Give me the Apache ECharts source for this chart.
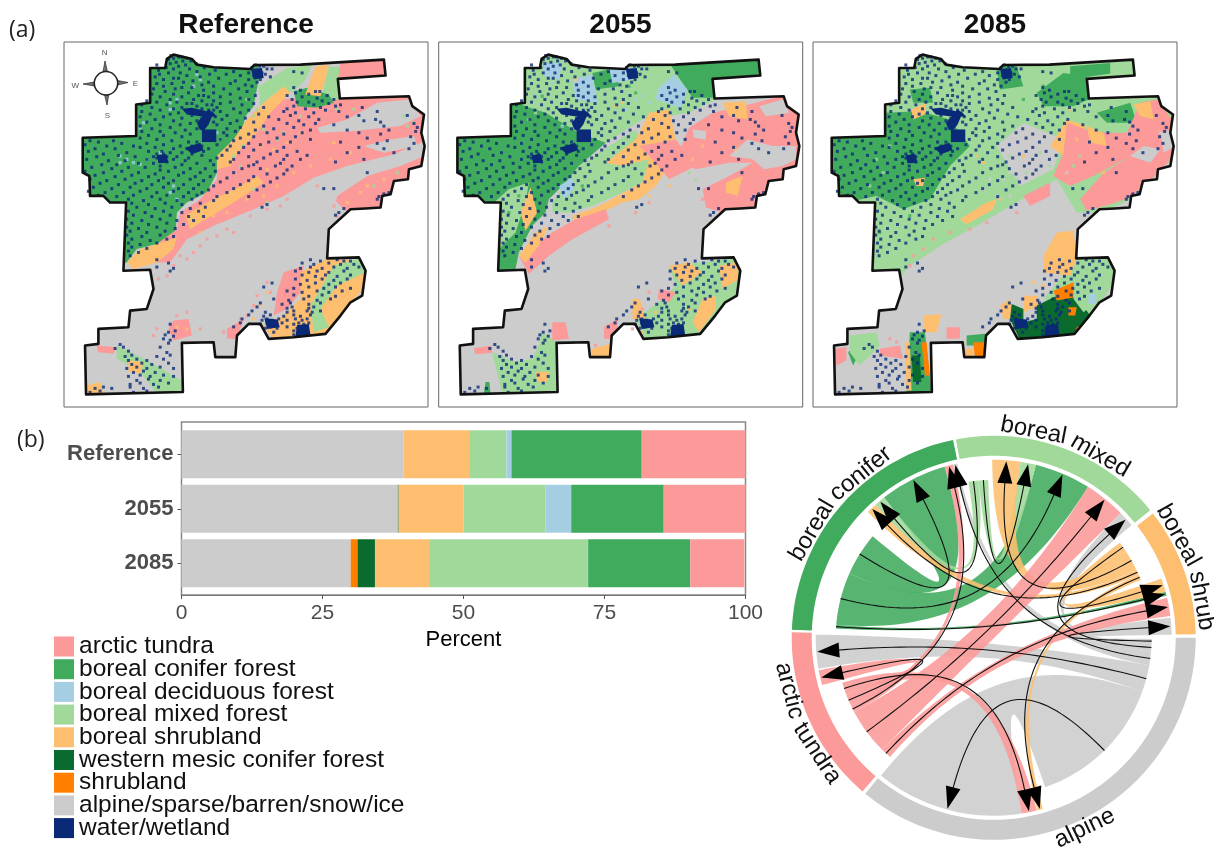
<!DOCTYPE html>
<html>
<head>
<meta charset="utf-8">
<style>html,body{margin:0;padding:0;background:#fff}#main{width:1214px;height:847px}</style>
<script src="https://cdn.jsdelivr.net/npm/echarts@6/dist/echarts.min.js"></script>
</head>
<body>
<div id="main"></div>
<script>
// (b) stacked bars, percent of area
var categories = ['Reference', '2055', '2085'];
var alpineVals = [39.4, 38.3, 30.0];
var shrublandVals = [0, 0.1, 1.2];
var mesicVals = [0, 0.1, 3.1];
var shrubVals = [11.6, 11.5, 9.6];
var mixedVals = [6.6, 14.5, 28.0];
var decidVals = [0.9, 4.6, 0.2];
var coniferVals = [23.1, 16.4, 18.1];
var tundraVals = [18.4, 14.5, 9.6];
var waterVals = [0, 0, 0];

var legendNames = ['arctic tundra', 'boreal conifer forest', 'boreal deciduous forest', 'boreal mixed forest',
  'boreal shrubland', 'western mesic conifer forest', 'shrubland', 'alpine/sparse/barren/snow/ice', 'water/wetland'];

var colors = {
  tundra: '#fb9a99', conifer: '#41ab5d', decid: '#a6cee3', mixed: '#a1d99b', shrub: '#fdbf6f',
  mesic: '#0b6b2e', shrubland: '#ff7f00', alpine: '#cccccc', water: '#0a2a78'
};

// study area outline, in map units of the Reference panel (1 unit = 1/3 px)
var outline = [500,178, 520,165, 575,178, 590,195, 640,203, 750,208, 762,196, 900,195, 1150,180, 1155,228, 1012,238,
  1018,297, 1225,290, 1235,320, 1270,345, 1262,400, 1272,440, 1262,500, 1225,510, 1222,540, 1180,545, 1170,585,
  1145,590, 1140,625, 1095,628, 1050,630, 985,690, 980,778, 1075,775, 1095,815, 1085,890, 1050,910, 1020,950,
  975,1005, 880,1015, 805,1020, 780,975, 745,975, 710,1010, 705,1075, 645,1075, 640,1030, 545,1032, 548,1180,
  258,1187, 255,1040, 295,1035, 295,990, 385,985, 390,935, 440,930, 460,870, 450,812, 370,815, 378,610, 330,610,
  310,590, 270,590, 268,530, 248,520, 248,415, 408,410, 408,315, 450,310, 450,205, 495,205];

// class patches per panel, painted in order over the alpine base
var refPatches = [
  ['conifer', [200,140, 770,140, 775,240, 760,320, 735,350, 725,395, 690,430, 650,470, 650,520, 620,580, 560,610, 530,640, 525,720, 470,735, 410,750, 380,790, 200,820]],
  ['tundra', [760,340, 840,300, 1010,290, 1240,280, 1300,340, 1300,560, 1140,640, 1040,640, 980,580, 850,640, 700,690, 570,730, 520,790, 450,790, 400,770, 470,735, 530,690, 540,640, 600,600, 650,540, 650,480, 700,430, 735,370]],
  ['mixed', [775,260, 860,205, 935,195, 915,240, 880,275, 820,285, 780,320]],
  ['mixed', [985,200, 1040,205, 1015,300, 960,305]],
  ['tundra', [1020,190, 1160,175, 1160,232, 1012,240]],
  ['conifer', [880,275, 920,265, 985,285, 1000,310, 950,325, 890,320]],
  ['shrub', [945,200, 985,195, 975,240, 960,290, 915,285, 930,240]],
  ['shrub', [740,360, 790,310, 850,260, 870,280, 810,340, 770,400, 720,450, 690,500, 650,510, 650,470, 700,420]],
  ['shrub', [620,610, 720,560, 770,530, 790,550, 700,610, 600,670, 570,690, 555,650]],
  ['shrub', [380,790, 420,750, 470,735, 530,715, 520,750, 470,790, 400,810]],
  ['alpine', [1280,422, 1180,465, 1040,500, 940,535, 850,590, 760,630, 640,680, 560,720, 510,790, 440,820, 450,1000, 1000,1000, 1000,640, 1010,590, 1100,530, 1200,500, 1270,470]],
  ['alpine', [950,385, 1040,360, 1130,310, 1225,300, 1260,350, 1200,380, 1060,395, 960,400]],
  ['alpine', [1090,440, 1170,420, 1240,410, 1250,440, 1150,460]],
  ['tundra', [850,820, 910,800, 900,880, 860,930, 820,950, 830,880]],
  ['shrub', [900,820, 980,780, 1090,785, 1100,860, 1040,920, 990,1010, 820,1025, 790,980, 850,950, 900,900]],
  ['mixed', [1000,800, 1085,775, 1095,820, 1010,860, 960,930, 985,985, 940,1000, 930,920]],
  ['tundra', [520,965, 565,960, 575,1010, 520,1025, 505,990]],
  ['tundra', [680,990, 730,960, 710,1020, 680,1020]],
  ['tundra', [290,1040, 350,1045, 340,1065, 295,1060]],
  ['mixed', [350,1040, 450,1090, 550,1150, 550,1185, 470,1185, 420,1120, 350,1080]],
  ['shrub', [385,1085, 430,1090, 420,1125, 385,1120]],
  ['shrub', [258,1160, 300,1150, 310,1187, 258,1187]]
];

var p2055Patches = [
  ['mixed', [265,200, 320,160, 400,180, 600,185, 760,185, 830,185, 980,170, 980,235, 830,240, 840,300, 760,340, 620,360, 510,430, 430,400, 330,340, 270,320, 225,315]],
  ['conifer', [60,400, 225,300, 270,320, 330,340, 430,400, 510,430, 430,500, 390,550, 340,600, 330,640, 290,680, 250,760, 240,810, 170,820, 170,610, 60,590]],
  ['conifer', [700,190, 975,175, 975,228, 830,238, 835,295, 770,295]],
  ['conifer', [470,220, 540,205, 550,260, 480,270]],
  ['decid', [410,240, 470,225, 485,310, 420,300]],
  ['decid', [665,270, 715,225, 755,270, 735,325, 660,300]],
  ['decid', [520,200, 580,195, 590,240, 530,250]],
  ['decid', [320,190, 380,190, 370,240, 325,230]],
  ['mixed', [170,615, 220,570, 280,550, 270,610, 240,700, 170,770]],
  ['shrub', [255,640, 285,565, 305,640, 270,695]],
  ['mixed', [350,610, 430,500, 520,440, 600,390, 640,480, 640,540, 560,580, 470,620, 400,640, 350,640]],
  ['decid', [370,560, 410,535, 415,570, 385,600]],
  ['tundra', [760,385, 830,340, 960,310, 1050,285, 1100,360, 1100,480, 1060,520, 1000,560, 960,620, 860,640, 810,625, 800,570, 880,530, 950,490, 880,490, 780,510, 720,480]],
  ['alpine', [970,320, 1040,300, 1060,340, 990,350]],
  ['alpine', [770,390, 810,395, 810,420, 775,415]],
  ['alpine', [880,470, 935,420, 1010,440, 1080,440, 1080,480, 1040,500, 985,510, 950,480]],
  ['shrub', [510,490, 600,420, 640,340, 700,330, 720,420, 700,500, 660,560, 610,600, 560,610, 420,680, 410,650, 490,620, 620,550, 640,480, 560,500]],
  ['tundra', [610,440, 720,420, 780,500, 700,540, 650,480]],
  ['shrub', [860,310, 930,305, 935,360, 880,350]],
  ['shrub', [870,550, 920,530, 905,590, 870,580]],
  ['tundra', [350,700, 420,660, 510,630, 520,660, 410,720, 340,770, 280,825, 250,770]],
  ['shrub', [250,770, 300,700, 340,680, 310,740, 270,790]],
  ['mixed', [700,800, 800,790, 900,775, 925,820, 900,890, 840,960, 800,1015, 630,1025, 600,960, 680,900, 720,860]],
  ['shrub', [800,900, 840,890, 840,930, 790,1000, 770,970]],
  ['shrub', [700,800, 760,790, 800,820, 740,860]],
  ['shrub', [850,800, 900,790, 910,840, 860,870]],
  ['shrub', [590,900, 612,900, 630,960, 590,960]],
  ['tundra', [670,870, 720,880, 700,910, 665,900]],
  ['tundra', [505,985, 545,960, 545,1020, 505,1020]],
  ['mixed', [320,1000, 365,1030, 370,1185, 200,1185, 170,1060, 240,1090, 290,1080, 310,1040]],
  ['tundra', [350,970, 390,970, 400,1020, 350,1025]],
  ['tundra', [115,1048, 170,1040, 170,1062, 120,1066]],
  ['shrub', [470,1050, 525,1035, 528,1078, 465,1078]],
  ['shrub', [300,1120, 340,1120, 335,1150, 305,1150]],
  ['conifer', [150,1150, 162,1150, 165,1185, 145,1185]]
];

var p2085Patches = [
  ['mixed', [170,620, 60,600, 60,400, 225,300, 265,190, 320,160, 980,170, 980,235, 835,240, 840,300, 1050,285, 1095,340, 1095,470, 960,600, 880,640, 800,640, 740,540, 620,610, 500,680, 400,735, 300,800, 270,835, 170,825]],
  ['conifer', [60,405, 225,405, 225,340, 330,335, 420,360, 480,440, 420,500, 360,600, 280,630, 200,590, 130,605, 60,565]],
  ['conifer', [300,270, 360,265, 370,310, 310,310]],
  ['conifer', [680,280, 760,220, 830,230, 835,300, 790,320, 700,320]],
  ['conifer', [780,200, 900,190, 900,222, 780,240]],
  ['conifer', [560,200, 620,200, 640,260, 570,270]],
  ['conifer', [860,340, 960,310, 980,370, 890,370]],
  ['shrub', [305,330, 350,310, 345,345, 310,360]],
  ['shrub', [310,540, 345,535, 340,560, 320,560]],
  ['alpine', [560,440, 640,370, 760,420, 730,510, 630,560]],
  ['shrub', [720,440, 770,360, 830,380, 800,430, 760,470]],
  ['tundra', [770,370, 840,395, 900,400, 950,400, 990,310, 1040,300, 1085,360, 1090,470, 1040,525, 960,595, 900,615, 830,635, 810,600, 880,520, 960,470, 850,530, 780,560, 730,530, 760,460]],
  ['shrub', [830,380, 880,400, 890,440, 840,430]],
  ['shrub', [970,315, 1020,305, 1030,360, 990,350]],
  ['tundra', [640,590, 720,550, 720,590, 660,620]],
  ['shrub', [450,660, 530,610, 560,600, 550,630, 470,675]],
  ['alpine', [960,470, 1000,440, 1050,450, 1020,490]],
  ['alpine', [1085,390, 1095,440, 1060,460, 1050,400]],
  ['mixed', [800,780, 900,775, 925,820, 880,900, 830,960, 700,900]],
  ['shrub', [740,700, 790,695, 800,780, 780,830, 700,820, 700,770]],
  ['shrub', [640,890, 680,890, 690,920, 640,940]],
  ['shrub', [570,920, 600,900, 612,960, 580,960]],
  ['mesic', [680,920, 740,890, 790,880, 840,950, 800,1015, 630,1025, 600,960, 605,915, 640,930, 640,970, 680,960]],
  ['shrubland', [730,875, 790,850, 795,895, 740,905]],
  ['shrubland', [775,925, 800,925, 795,950, 775,950]],
  ['mixed', [790,860, 880,850, 870,900, 820,940, 790,900]],
  ['decid', [835,885, 860,885, 855,915, 835,915]],
  ['shrubland', [800,985, 820,975, 810,1010, 790,1010]],
  ['tundra', [75,1050, 110,1045, 110,1085, 80,1100]],
  ['conifer', [115,1060, 150,1020, 195,1030, 150,1060, 130,1100]],
  ['mixed', [120,1010, 200,1000, 210,1040, 150,1100, 120,1060]],
  ['tundra', [210,1050, 270,1040, 280,1080, 210,1070]],
  ['shrub', [340,950, 395,945, 380,1000, 340,1000]],
  ['tundra', [410,985, 450,985, 450,1020, 410,1020]],
  ['conifer', [300,1000, 345,1000, 365,1180, 290,1185]],
  ['shrub', [285,1030, 300,1030, 305,1175, 290,1175]],
  ['shrubland', [335,1030, 350,1030, 360,1130, 345,1130]],
  ['mesic', [305,1070, 330,1070, 335,1150, 310,1150]],
  ['conifer', [470,1010, 525,1005, 525,1040, 470,1040]],
  ['shrubland', [490,1030, 525,1030, 530,1078, 495,1078]],
  ['shrub', [465,1050, 490,1050, 490,1078, 465,1078]]
];

// larger water bodies, same in every map (Reference panel units)
var waterBlobs = [
  [605,390, 648,390, 648,428, 605,428],
  [545,328, 575,325, 640,340, 650,352, 600,350, 560,345],
  [590,370, 625,330, 640,340, 625,375, 610,395, 598,390],
  [555,445, 600,430, 610,452, 575,465],
  [470,468, 498,464, 505,490, 475,492],
  [752,208, 785,205, 790,235, 760,240],
  [890,978, 925,975, 930,1008, 885,1012],
  [792,958, 832,962, 838,985, 800,990]
];

// small scattered cells of other classes, [class, x, y, x, y ...]
var refSpecks = [
  ['tundra', [700,700, 650,710, 600,740, 580,760, 540,770, 520,800, 500,830, 475,840, 560,780, 620,720, 680,690, 750,650, 800,630, 840,620, 860,600, 950,560, 1000,620, 1010,650, 800,850, 810,880, 760,920, 770,890, 740,950, 720,960, 690,990, 670,1000, 600,990, 530,950, 560,940, 470,990, 460,1010]],
  ['shrub', [600,700, 640,650, 680,640, 740,600, 790,590, 830,560, 880,520, 930,500, 990,480, 1050,460, 820,450, 860,430, 900,400, 1000,430, 1100,560, 1080,580, 1150,540, 1040,610, 800,510, 780,440, 800,880, 780,920, 760,960, 560,990, 530,985]],
  ['mixed', [850,400, 830,420, 900,350, 1010,330, 1060,330, 1210,350, 1220,380, 1240,370, 760,570, 800,610, 1120,560, 1190,520, 700,470, 720,500, 740,300, 770,330, 760,350, 790,390, 730,440]],
  ['decid', [380,480, 400,490, 420,495, 440,480, 360,470, 520,560, 510,580, 530,600, 420,385, 430,370, 510,310, 530,300, 590,225, 600,240, 580,260, 650,400, 660,420, 480,460, 510,330, 360,490]]
];
var p2055Specks = [
  ['tundra', [340,720, 380,700, 450,690, 520,680, 600,640, 640,610, 300,800, 320,780, 800,600, 830,620, 640,880, 620,930, 590,990, 520,990, 480,1040]],
  ['shrub', [700,560, 640,590, 580,600, 500,620, 620,560, 770,480, 800,440, 900,450, 760,930, 620,1000, 660,940, 420,240, 430,350, 540,320, 560,310]],
  ['mixed', [760,520, 520,560, 470,590, 780,540, 300,340, 280,360]],
  ['decid', [570,330, 600,300, 460,330, 380,380, 300,290, 350,250, 620,290, 640,310]],
  ['conifer', [320,290, 350,400, 220,640, 250,590, 440,560, 600,280, 580,260]]
];
var p2085Specks = [
  ['tundra', [310,770, 340,750, 370,720, 420,700, 480,690, 530,670, 680,590, 760,540, 300,800, 620,640, 240,1020, 260,1030]],
  ['shrub', [480,650, 520,620, 570,600, 640,470, 660,490, 800,420, 880,520, 700,860, 670,850, 500,470, 520,490, 780,330]],
  ['mixed', [600,470, 650,520, 620,540, 690,460, 720,500, 790,500, 810,470, 860,390, 200,480, 220,520, 180,560, 240,440]],
  ['alpine', [580,540, 600,520, 540,540, 520,570, 560,590, 600,590, 770,520, 1050,400]],
  ['conifer', [250,430, 300,650, 130,480, 700,260, 640,300, 210,700]]
];

// water/wetland cells, same in all three maps, rows of [y, x, x, ...]
var waterRows = [
  [168,512],[172,535,545],[176,520,560],[180,505],[184,548,572],[188,528],[192,588,510],[196,470,556,765],[200,535,778,790],
  [204,498,612,755],[208,520,568,800,815],[212,475,645,770],[216,590,700,880],[220,505,540,745,785,905],[224,478,628,678,795],
  [228,560,720,760],[232,465,600,810],[236,520,535,655],[240,490,745,780],[244,578,705],[248,550,625,770],[252,470,515,690],
  [256,605,735],[260,490,640,755],[264,545,575,880],[268,460,525,670,715],[272,610,900],[276,495,740,945,958],[280,565,640,885],
  [284,455,520,690,925],[288,595,610,765,860,980],[292,480,545,625,660,905],[296,720,950],[300,510,580,745,875,1000],
  [304,440,605,640,965],[308,470,530,690,890,925],[312,560,575,660,760,985],[316,425,500,620,635,725,940,1020],[320,590,880,1005],
  [324,455,545,650,790,960,1085],[328,520,605,700,860,915],[332,480,570,625,640,745,975],[336,425,660,850,1015,1130],
  [340,535,600,720,885,940],[344,450,510,615,630,775],[348,575,680,870,1075,1220],[352,420,490,645,805,925,1040],
  [356,545,605,625,735],[360,465,665,835,955,1125],[364,520,590,615,710,895,1090],[368,440,640,760,1140],[372,570,690,860,945,1240],
  [376,480,540,600,650,910,1000],[380,420,790,1150],[384,510,720,880,1250],[388,455,590,680,820],[392,555,765,930,1040,1165],
  [396,425,480,705,1245],[400,525,670,800,905,1075],[404,570,745,850,1140],[408,445,490,680],[412,545,760,885,1230],
  [416,420,720,830,1100],[420,470,660,930],[424,270,340,515,700,1160],[428,295,590,565,805,870,1020],[432,365,440,745,1130,1240],
  [436,255,490,650,780],[440,320,400,540,575,605,690],[444,420,465,730,850,1075],[448,285,345,520,560,625,1150,1225],
  [452,590,680,760],[456,265,445,485,610,830,890],[460,380,510,545,715,1040,1180],[464,310,470,490,575,810],[468,355,605,665,860,920],
  [472,290,405,460,480,500,530,745],[476,470,490,565,650,790],[480,260,440,520,700,850,900,1090],[484,325,375,480,555,630],
  [488,500,690,770,1005],[492,415,460,590,840],[496,305,350,545,640,760],[500,480,745,825,875],[504,275,385,435,525],
  [508,335,570,615,725,780],[512,480,860],[516,255,365,505,645],[520,310,415,550,600,700,1100],[524,465,800,850],[528,285,395,535],
  [532,345,445,585,630,760],[536,490,680,830],[540,270,375,570],[544,320,425,475,520,610,745],[548,660,810],[552,300,405,505],
  [556,355,455,550,595,720],[560,640,790],[564,280,390,490],[568,335,440,535,580,700,970,1000],[572,625,770],[576,265,420,520],
  [580,315,370,470,565,605,680,1165],[584,1150],[588,295,400,500,590],[592,350,455,550,650,745,1135],[600,385,480,575,1130],
  [604,430,530,640],[612,395,495,600],[616,445,545,800],[624,410,515,615,785],[628,465,570,1030],[636,385,490,595],[640,435,545,1015],
  [648,400,510,1005],[652,455,565,610],[660,380,480],[664,425,530,580],[672,395,500],[676,445,550],[684,380,470],[688,415,525],
  [696,390,495],[700,440],[708,380,480],[712,425,520],[720,395,500],[724,450],[732,385,470],[736,420],[744,395],[748,440],[756,385],
  [760,415],[770,390],[782,470,930,1010],[786,960,1030,1050],[792,505,905,985],[796,940,1020,1060],[804,470,930,1000,1075],
  [808,520,900,965,1040],[816,510,885,950,1030],[820,925,985],[828,905,975,1050],[832,945,1010],[840,885,965,1040],[844,920,1000],
  [852,815,945,1020],[856,900,985],[864,790,925,1005],[868,880,970,1050],[876,860,950,1025],[880,905,985],[888,880,965],[892,925,1005],
  [900,820,910,990],[904,865,950],[912,780,870,960],[916,845,925],[924,770,875,940],[928,860,925],[936,755,880,920,960],
  [940,795,860,935],[948,745,810,880,930],[952,790,850,900],[960,725,800,835,885,920],[964,785,815,860,905],[972,720,800,845,895,925],
  [976,510,780,820,880,910],[984,700,810,860,905],[988,795,830,890,920],[996,525,880,910],[1000,505,820,895],[1008,495,880],
  [1012,520,895],[1020,490],[1024,510],[1033,505],[1037,360],[1045,370,480],[1049,345],[1057,385],[1061,500],[1069,395,510],
  [1073,375,470],[1081,410,490],[1085,385,440],[1093,425,505],[1097,395,455],[1105,410,480],[1109,380,440,520],[1117,430],
  [1121,400,465],[1129,420,490],[1133,385,450,520],[1141,445],[1145,410,480],[1153,420,505],[1157,390,460],[1165,310,390,475],
  [1169,285,335,430],[1177,300,440],[1181,270,400]
];

// chord diagram: sectors as [name, start, end], degrees clockwise from north
var sectors = [
  ['boreal conifer', 272.3, 348.4],
  ['boreal mixed', 349.2, 410.8],
  ['boreal shrub', 412, 449],
  ['alpine', 450, 579.5],
  ['arctic tundra', 580.5, 631.6]
];
var sectorColors = [colors.conifer, colors.mixed, colors.shrub, colors.alpine, colors.tundra];
var labelWords = ['boreal', 'conifer', 'boreal', 'mixed', 'boreal', 'shrub', 'alpine', 'arctic', 'tundra'];
var labelAngles = [300.6, 321, 10.9, 30.3, 61, 79.9, 154.4, 255.5, 236.8];

// [source class, source arc start, end, target arc start, end]
var links = [
  ['alpine', 110, 161, 171, 219.3],
  ['alpine', 100, 110, 260, 271],
  ['alpine', 95, 100, 346.8, 348.2],
  ['alpine', 92, 95, 45.5, 50.8],
  ['alpine', 90.4, 92, 83.5, 89],
  ['conifer', 294, 310, 322, 344],
  ['conifer', 274.7, 294, 13.7, 32],
  ['conifer', 273.4, 274.7, 75, 76.3],
  ['mixed', 350.8, 354.5, 318.4, 322],
  ['mixed', 354.5, 358, 8.7, 13.7],
  ['shrub', 57, 64.5, 359.5, 368.7],
  ['shrub', 53, 57, 70.5, 75],
  ['shrub', 64.5, 66.5, 315, 318.4],
  ['shrub', 66.5, 68.5, 164, 165.8],
  ['tundra', 225, 242, 32, 45.5],
  ['tundra', 221, 225, 77, 83],
  ['tundra', 242, 244.5, 344, 346.8],
  ['tundra', 244.5, 249, 254.6, 259.5],
  ['tundra', 249, 253.5, 166, 171]
];

var chartDom = document.getElementById('main');
var chart = echarts.init(chartDom);

function pairs(flat, shift) {
  var out = [];
  for (var i = 0; i < flat.length; i += 2) out.push([flat[i] + shift, flat[i + 1]]);
  return out;
}
function rowCells(rows, shift) {
  var out = [];
  rows.forEach(function (r) {
    for (var i = 1; i < r.length; i++) out.push([r[i] + shift, r[0]]);
  });
  return out;
}

var panels = [
  { left: 64, xMin: 192, shift: 0, patches: refPatches, specks: refSpecks },
  { left: 438.7, xMin: 10, shift: -182, patches: p2055Patches, specks: p2055Specks },
  { left: 813, xMin: 10, shift: -182, patches: p2085Patches, specks: p2085Specks }
];

var grids = [], xAxes = [], yAxes = [], series = [];

panels.forEach(function (p, i) {
  grids.push({ left: p.left, top: 42, width: 364, height: 365, show: true, backgroundColor: '#fff', borderColor: '#666', borderWidth: 1 });
  xAxes.push({ gridIndex: i, type: 'value', min: p.xMin, max: p.xMin + 1090, show: false });
  yAxes.push({ gridIndex: i, type: 'value', min: 127, max: 1225, inverse: true, show: false });
  var ring = pairs(outline, p.shift);
  var blobs = waterBlobs.map(function (b) { return pairs(b, p.shift); });
  function toPx(api, list) { return list.map(function (q) { return api.coord(q); }); }
  series.push({
    type: 'custom', xAxisIndex: i, yAxisIndex: i, silent: true,
    data: [[-1]].concat(p.patches.map(function (c, k) { return [k]; })),
    renderItem: function (params, api) {
      var k = api.value(0);
      var clip = toPx(api, ring);
      if (k < 0) return { type: 'polygon', shape: { points: clip }, style: { fill: colors.alpine } };
      var patch = p.patches[k];
      return {
        type: 'polygon', shape: { points: toPx(api, pairs(patch[1], 0)) },
        style: { fill: colors[patch[0]] },
        clipPath: { type: 'polygon', shape: { points: clip } }
      };
    }
  });
  p.specks.forEach(function (s) {
    series.push({
      type: 'scatter', xAxisIndex: i, yAxisIndex: i, silent: true, symbol: 'rect', symbolSize: 3.2,
      itemStyle: { color: colors[s[0]] }, data: pairs(s[1], 0)
    });
  });
  series.push({
    type: 'custom', xAxisIndex: i, yAxisIndex: i, silent: true, z: 3,
    data: blobs.map(function (b, k) { return [k]; }),
    renderItem: function (params, api) {
      return { type: 'polygon', shape: { points: toPx(api, blobs[api.value(0)]) }, style: { fill: colors.water } };
    }
  });
  series.push({
    type: 'scatter', xAxisIndex: i, yAxisIndex: i, silent: true, symbol: 'rect', symbolSize: 3, z: 3,
    itemStyle: { color: colors.water }, data: rowCells(waterRows, p.shift)
  });
  series.push({
    type: 'custom', xAxisIndex: i, yAxisIndex: i, silent: true, z: 5, data: [[0]],
    renderItem: function (params, api) {
      return { type: 'polygon', shape: { points: toPx(api, ring) }, style: { fill: 'none', stroke: '#111', lineWidth: 2.6, lineJoin: 'round' } };
    }
  });
});

// stacked bars
grids.push({ left: 181.5, top: 427, width: 564, height: 163.5 });
xAxes.push({
  gridIndex: 3, type: 'value', min: 0, max: 100, interval: 25, offset: 4.5,
  name: 'Percent', nameLocation: 'middle', nameGap: 34,
  nameTextStyle: { color: '#000', fontSize: 22, fontFamily: 'Liberation Sans' },
  splitLine: { show: false }, axisLine: { show: true, lineStyle: { color: '#777' } },
  axisTick: { show: true, length: 4, lineStyle: { color: '#555' } },
  axisLabel: { color: '#4d4d4d', fontSize: 21, margin: 8, fontFamily: 'Liberation Sans' }
});
yAxes.push({
  gridIndex: 3, type: 'category', data: categories, inverse: true,
  axisLine: { show: false }, axisTick: { show: true, length: 4, alignWithLabel: true, lineStyle: { color: '#555' } },
  axisLabel: { color: '#4d4d4d', fontSize: 22, fontWeight: 'bold', margin: 8, fontFamily: 'Liberation Sans' }
});
[
  ['alpine/sparse/barren/snow/ice', alpineVals, 'alpine'],
  ['shrubland', shrublandVals, 'shrubland'],
  ['western mesic conifer forest', mesicVals, 'mesic'],
  ['boreal shrubland', shrubVals, 'shrub'],
  ['boreal mixed forest', mixedVals, 'mixed'],
  ['boreal deciduous forest', decidVals, 'decid'],
  ['boreal conifer forest', coniferVals, 'conifer'],
  ['arctic tundra', tundraVals, 'tundra'],
  ['water/wetland', waterVals, 'water']
].forEach(function (s) {
  series.push({
    name: s[0], type: 'bar', stack: 'area', xAxisIndex: 3, yAxisIndex: 3, barWidth: 48, silent: true,
    data: s[1], itemStyle: { color: colors[s[2]] }
  });
});

// chord grid: one unit is one pixel, origin in the circle centre
var cx = 993.7, cy = 637.8, half = 205;
grids.push({ left: cx - half, top: cy - half, width: 2 * half, height: 2 * half });
xAxes.push({ gridIndex: 4, type: 'value', min: -half, max: half, show: false });
yAxes.push({ gridIndex: 4, type: 'value', min: -half, max: half, show: false });

var ringOuter = 202, ringInner = 182, targetR = 178, sourceR = 158, pull = 0.3;

function polar(deg, r) {
  var a = deg * Math.PI / 180;
  return [r * Math.sin(a), r * Math.cos(a)];
}
function arc(a0, a1, r) {
  var out = [], n = Math.max(2, Math.ceil(Math.abs(a1 - a0) / 2));
  for (var i = 0; i <= n; i++) out.push(polar(a0 + (a1 - a0) * i / n, r));
  return out;
}
function curve(a, ra, b, rb) {
  var p0 = polar(a, ra), p1 = polar(a, ra * pull), p2 = polar(b, rb * pull), p3 = polar(b, rb), out = [];
  for (var i = 0; i <= 40; i++) {
    var t = i / 40, u = 1 - t;
    out.push([
      u * u * u * p0[0] + 3 * u * u * t * p1[0] + 3 * u * t * t * p2[0] + t * t * t * p3[0],
      u * u * u * p0[1] + 3 * u * u * t * p1[1] + 3 * u * t * t * p2[1] + t * t * t * p3[1]
    ]);
  }
  return out;
}

series.push({
  type: 'custom', xAxisIndex: 4, yAxisIndex: 4, silent: true,
  data: sectors.map(function (s, i) { return [i]; }),
  renderItem: function (params, api) {
    var s = sectors[api.value(0)];
    var pts = arc(s[1], s[2], ringOuter).concat(arc(s[2], s[1], ringInner));
    return { type: 'polygon', shape: { points: pts.map(function (q) { return api.coord(q); }) }, style: { fill: sectorColors[api.value(0)] } };
  }
});
series.push({
  type: 'custom', xAxisIndex: 4, yAxisIndex: 4, silent: true,
  data: links.map(function (l, i) { return [i]; }),
  renderItem: function (params, api) {
    var l = links[api.value(0)];
    var pts = arc(l[1], l[2], sourceR)
      .concat(curve(l[2], sourceR, l[3], targetR))
      .concat(arc(l[3], l[4], targetR))
      .concat(curve(l[4], targetR, l[1], sourceR));
    return { type: 'polygon', shape: { points: pts.map(function (q) { return api.coord(q); }) }, style: { fill: colors[l[0]], opacity: 0.88 } };
  }
});
series.push({
  type: 'custom', xAxisIndex: 4, yAxisIndex: 4, silent: true, z: 4,
  data: links.map(function (l, i) { return [i]; }),
  renderItem: function (params, api) {
    var l = links[api.value(0)];
    var from = (l[1] + l[2]) / 2, to = (l[3] + l[4]) / 2;
    var base = polar(to, targetR - 23), tip = polar(to, targetR - 1);
    var a = to * Math.PI / 180, wx = 7.5 * Math.cos(a), wy = -7.5 * Math.sin(a);
    return {
      type: 'group',
      children: [
        { type: 'polyline', shape: { points: curve(from, sourceR, to, targetR - 20).map(function (q) { return api.coord(q); }) }, style: { fill: 'none', stroke: '#111', lineWidth: 1.1 } },
        { type: 'polygon', shape: { points: [tip, [base[0] + wx, base[1] + wy], [base[0] - wx, base[1] - wy]].map(function (q) { return api.coord(q); }) }, style: { fill: '#000' } }
      ]
    };
  }
});
series.push({
  type: 'custom', xAxisIndex: 4, yAxisIndex: 4, silent: true, z: 6,
  data: labelWords.map(function (w, i) { return [i]; }),
  renderItem: function (params, api) {
    var i = api.value(0), deg = labelAngles[i];
    var lower = deg > 90 && deg < 270;
    var c = api.coord(polar(deg, 211));
    return {
      type: 'text', x: c[0], y: c[1], rotation: (lower ? 180 - deg : -deg) * Math.PI / 180,
      style: { text: labelWords[i], fontSize: 24, fontFamily: 'Liberation Sans', fill: '#111', align: 'center', verticalAlign: 'middle' }
    };
  }
});

// compass on the Reference panel
function compass() {
  var ink = '#222', fill = '#777';
  var kites = [
    [[105,61],[103,72],[105.3,71],[107.5,72]],
    [[107,105],[104.5,94.5],[106.5,95.5],[108.8,94.5]],
    [[83,84],[94.5,82],[93,84],[94.5,86]],
    [[128,82.5],[117.5,80.5],[119,82.8],[117.5,85]]
  ];
  var els = kites.map(function (k) {
    return { type: 'polygon', shape: { points: k }, style: { fill: fill, stroke: ink, lineWidth: 0.7 } };
  });
  els.push({ type: 'circle', shape: { cx: 106, cy: 83.3, r: 11.7 }, style: { fill: '#fff', stroke: '#222', lineWidth: 1.5 } });
  [['N', 104.7, 52.7], ['W', 75.3, 85.3], ['E', 135.5, 83.3], ['S', 107.3, 115.7]].forEach(function (t) {
    els.push({ type: 'text', x: t[1], y: t[2], style: { text: t[0], fontSize: 8, fontFamily: 'Liberation Sans', fill: '#555', align: 'center', verticalAlign: 'middle' } });
  });
  return els;
}

var titleFont = { fontSize: 28, fontWeight: 'bold', color: '#111', fontFamily: 'Liberation Sans' };
var tagFont = { fontSize: 23, fontWeight: 'normal', color: '#222', fontFamily: 'Open Sans' };

var option = {
  animation: false,
  backgroundColor: '#fff',
  title: [
    { text: 'Reference', left: 246, top: 25, padding: 0, textAlign: 'center', textVerticalAlign: 'middle', textStyle: titleFont },
    { text: '2055', left: 620.5, top: 25, padding: 0, textAlign: 'center', textVerticalAlign: 'middle', textStyle: titleFont },
    { text: '2085', left: 995, top: 25, padding: 0, textAlign: 'center', textVerticalAlign: 'middle', textStyle: titleFont },
    { text: '(a)', left: 9, top: 30, padding: 0, textVerticalAlign: 'middle', textStyle: tagFont },
    { text: '(b)', left: 17, top: 440, padding: 0, textVerticalAlign: 'middle', textStyle: tagFont }
  ],
  legend: {
    data: legendNames, orient: 'vertical', left: 54, top: 634, icon: 'rect', selectedMode: false,
    itemWidth: 20, itemHeight: 20, itemGap: -2.3, padding: 0, height: 213,
    textStyle: { color: '#111', fontSize: 24.5, fontFamily: 'Liberation Sans' }
  },
  grid: grids, xAxis: xAxes, yAxis: yAxes, series: series,
  graphic: [
    { type: 'rect', z: -1, shape: { x: 181.5, y: 422, width: 564, height: 173 }, style: { fill: 'none', stroke: '#888', lineWidth: 1.5 } }
  ].concat(compass().map(function (e) { e.z = 20; return e; }))
};

chart.setOption(option);
</script>
</body>
</html>
